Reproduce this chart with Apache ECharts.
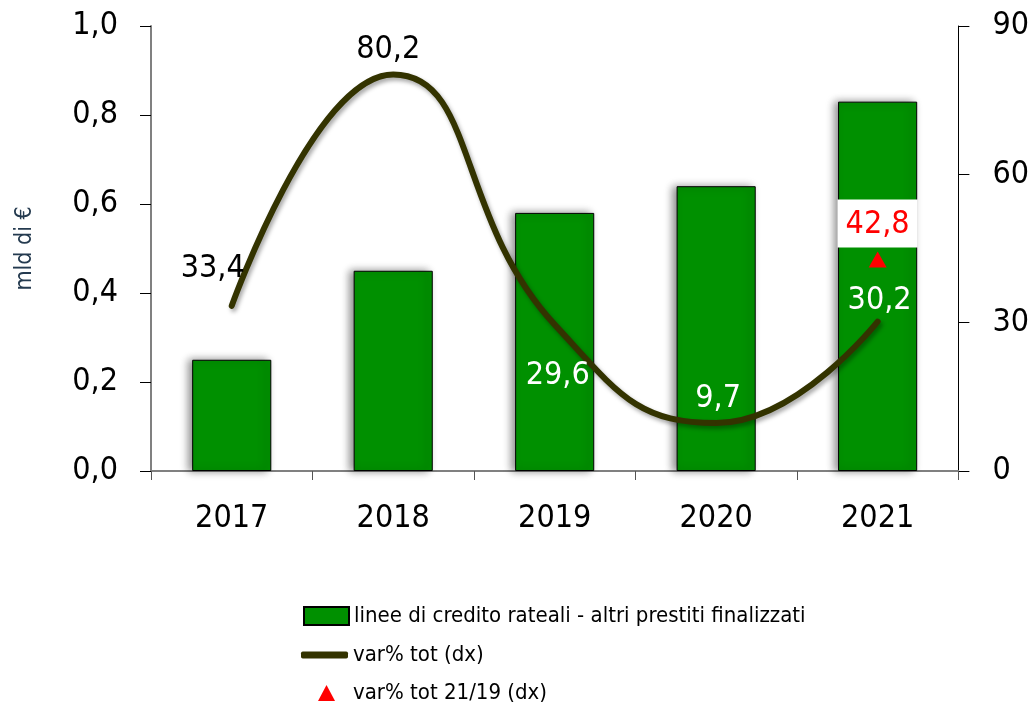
<!DOCTYPE html>
<html>
<head>
<meta charset="utf-8">
<style>
  html, body { margin: 0; padding: 0; background: #fff; }
  #chart { width: 1032px; height: 708px; }
</style>
<script src="https://cdn.jsdelivr.net/npm/echarts@6/dist/echarts.min.js"></script>
</head>
<body>
<div id="chart"></div>
<script>
// dati
var anni = ["2017", "2018", "2019", "2020", "2021"]
var credito = [0.25, 0.45, 0.58, 0.64, 0.83] // mld di €
var varTot = [33.4, 80.2, 29.6, 9.7, 30.2] // var% (dx)
var var2119 = [null, null, null, null, 42.8] // var% 21/19 (dx)

var FONT = "'Liberation Sans Narrow', 'DejaVu Sans Condensed', sans-serif"
var virgola = function (v, d) { return v.toFixed(d).replace(".", ",") }

// posizione etichette della linea (come nel grafico originale)
var lblOffset = [[-19, -7], [-5, 6], [3, 82], [2, 6], [2, 10]]
var lblColor = ["#000", "#000", "#fff", "#fff", "#fff"]

var myChart = echarts.init(document.getElementById("chart"))

var option = {
  animation: false,
  textStyle: { fontFamily: FONT },
  grid: { left: 151, right: 71, top: 26, bottom: 237 },
  legend: [
    {
      data: [{ name: "linee di credito rateali - altri prestiti finalizzati", icon: "rect" }],
      left: 298, top: 600,
      itemWidth: 45, itemHeight: 18,
      textStyle: { fontFamily: FONT, fontSize: 22, color: "#000" },
    },
    {
      data: [{ name: "var% tot (dx)", icon: "roundRect" }],
      left: 296, top: 639,
      itemWidth: 47, itemHeight: 7,
      textStyle: { fontFamily: FONT, fontSize: 22, color: "#000" },
    },
    {
      data: [{ name: "var% tot 21/19 (dx)", icon: "triangle" }],
      left: 313, top: 677,
      itemWidth: 17, itemHeight: 16,
      textStyle: { fontFamily: FONT, fontSize: 22, color: "#000", padding: [0, 0, 0, 13] },
    },
  ],
  xAxis: {
    type: "category",
    data: anni,
    axisLine: { lineStyle: { color: "#808080", width: 2 } },
    axisTick: { show: true, length: 9, lineStyle: { color: "#555" } },
    axisLabel: { color: "#000", fontSize: 32, margin: 32, fontFamily: FONT },
  },
  yAxis: [
    {
      type: "value",
      min: 0, max: 1, interval: 0.2,
      name: "mld di €",
      nameLocation: "middle",
      nameGap: 114,
      nameRotate: 90,
      nameTextStyle: { color: "#243a4f", fontSize: 23, fontFamily: FONT },
      axisLine: { show: true, lineStyle: { color: "#808080", width: 2 } },
      axisTick: { show: true, length: 11, lineStyle: { color: "#000" } },
      splitLine: { show: false },
      axisLabel: { color: "#000", fontSize: 32, margin: 33, fontFamily: FONT,
        formatter: function (v) { return virgola(v, 1) } },
    },
    {
      type: "value",
      min: 0, max: 90, interval: 30,
      position: "right",
      axisLine: { show: true, lineStyle: { color: "#000", width: 1 } },
      axisTick: { show: true, length: 11, lineStyle: { color: "#000" } },
      splitLine: { show: false },
      axisLabel: { color: "#000", fontSize: 32, margin: 34, fontFamily: FONT },
    },
  ],
  series: [
    {
      name: "linee di credito rateali - altri prestiti finalizzati",
      type: "bar",
      data: credito,
      barWidth: "49%",
      itemStyle: {
        color: "#009000",
        borderColor: "#000",
        borderWidth: 1,
        shadowColor: "rgba(0,0,0,0.45)",
        shadowBlur: 8,
        shadowOffsetX: -4,
      },
      z: 2,
    },
    {
      name: "var% tot (dx)",
      type: "line",
      yAxisIndex: 1,
      data: varTot.map(function (v, i) {
        return {
          value: v,
          label: { offset: lblOffset[i], color: lblColor[i] },
        }
      }),
      smooth: 0.5,
      showSymbol: true,
      symbol: "circle",
      symbolSize: 1,
      color: "#333300",
      itemStyle: { color: "#333300" },
      lineStyle: {
        color: "#333300",
        width: 6,
        cap: "round",
        shadowColor: "rgba(0,0,0,0.35)",
        shadowBlur: 4,
        shadowOffsetX: 2,
        shadowOffsetY: 3,
      },
      label: {
        show: true,
        position: "top",
        distance: 14,
        fontSize: 32,
        fontFamily: FONT,
        formatter: function (p) { return virgola(p.value, 1) },
      },
      z: 3,
    },
    {
      name: "var% tot 21/19 (dx)",
      type: "scatter",
      yAxisIndex: 1,
      data: var2119,
      symbol: "triangle",
      symbolSize: [18, 16],
      itemStyle: { color: "#ff0000", opacity: 1 },
      label: {
        show: true,
        position: "top",
        distance: 4,
        color: "#ff0000",
        fontSize: 32,
        fontFamily: FONT,
        backgroundColor: "#fff",
        padding: [9, 8, 7, 8],
        formatter: function (p) { return virgola(p.value, 1) },
      },
      z: 4,
    },
  ],
}

myChart.setOption(option)
</script>
</body>
</html>
